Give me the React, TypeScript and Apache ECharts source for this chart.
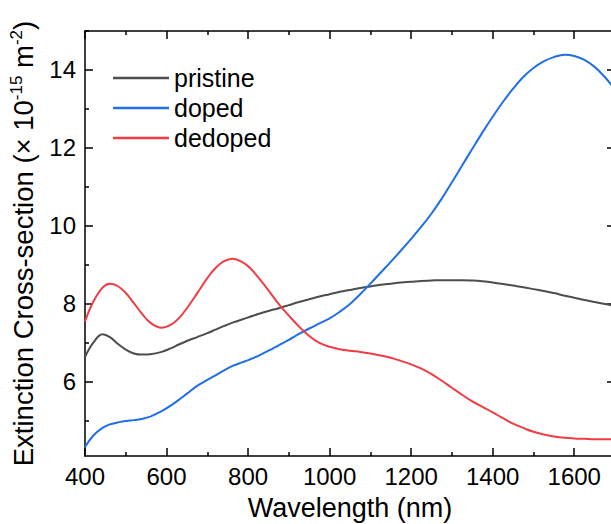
import React, { useEffect, useRef } from "react";
import * as echarts from "echarts";

const wavelengths = [400, 420, 443, 461, 480, 500, 520, 539, 560, 588, 610, 630, 650, 675, 700, 720, 740, 762, 785, 805, 825, 850, 875, 900, 925, 950, 975, 1000, 1025, 1050, 1075, 1100, 1125, 1150, 1175, 1200, 1225, 1250, 1275, 1300, 1325, 1350, 1375, 1400, 1425, 1450, 1475, 1500, 1525, 1550, 1577, 1600, 1625, 1650, 1675, 1700];

const pristine = [6.64, 7.0, 7.22, 7.15, 6.98, 6.83, 6.73, 6.7, 6.71, 6.77, 6.86, 6.96, 7.05, 7.15, 7.25, 7.34, 7.43, 7.52, 7.6, 7.67, 7.74, 7.82, 7.89, 7.97, 8.05, 8.12, 8.19, 8.25, 8.31, 8.36, 8.41, 8.45, 8.49, 8.52, 8.55, 8.57, 8.59, 8.6, 8.61, 8.61, 8.61, 8.6, 8.58, 8.55, 8.51, 8.47, 8.43, 8.38, 8.33, 8.28, 8.21, 8.16, 8.1, 8.05, 8.0, 7.95];

const doped = [4.33, 4.62, 4.82, 4.91, 4.96, 5.0, 5.02, 5.05, 5.11, 5.25, 5.39, 5.54, 5.7, 5.9, 6.05, 6.17, 6.29, 6.41, 6.5, 6.58, 6.67, 6.8, 6.94, 7.08, 7.23, 7.37, 7.5, 7.63, 7.8, 8.0, 8.25, 8.52, 8.8, 9.08, 9.37, 9.67, 9.98, 10.32, 10.7, 11.12, 11.55, 11.98, 12.4, 12.8, 13.18, 13.52, 13.82, 14.05, 14.22, 14.33, 14.39, 14.36, 14.26, 14.08, 13.82, 13.5];

const dedoped = [7.55, 8.05, 8.42, 8.52, 8.46, 8.28, 8.02, 7.76, 7.52, 7.39, 7.46, 7.63, 7.89, 8.27, 8.66, 8.92, 9.09, 9.16, 9.08, 8.92, 8.68, 8.35, 8.0, 7.7, 7.42, 7.18, 7.0, 6.9, 6.84, 6.8, 6.77, 6.73, 6.68, 6.62, 6.54, 6.45, 6.34, 6.2, 6.03, 5.85, 5.67, 5.5, 5.36, 5.22, 5.07, 4.93, 4.82, 4.72, 4.65, 4.6, 4.565, 4.55, 4.54, 4.53, 4.53, 4.53];

const seriesNames = ["pristine", "doped", "dedoped"];
const seriesColors = ["#4d4d4d", "#1f6fe6", "#f03c44"];
const yMajor = [6, 8, 10, 12, 14];
const yMinor = [5, 7, 9, 11, 13, 15];

const FONT = "'Liberation Sans', Arial, Helvetica, sans-serif";

export default function App() {
  const ref = useRef<HTMLDivElement>(null);
  useEffect(() => {
    if (!ref.current) return;
    const chart = echarts.init(ref.current, undefined, { renderer: "svg" });
    const all = [pristine, doped, dedoped];
    const axisLine = { show: true, lineStyle: { color: "#000", width: 1.5 } };
    const xCommon = {
      type: "value",
      min: 400,
      max: 1700,
      interval: 200,
      axisLine,
      axisTick: { show: true, inside: true, length: 8, lineStyle: { color: "#000", width: 1.5 } },
      minorTick: { show: true, splitNumber: 2, length: 4, lineStyle: { color: "#000", width: 1.5 } },
      splitLine: { show: false },
      minorSplitLine: { show: false },
    };
    const yCommon = { type: "value", min: 4.1, max: 15, splitLine: { show: false } };
    const majorTick = { show: true, inside: true, length: 8, customValues: yMajor, lineStyle: { color: "#000", width: 1.5 } };
    const minorTickY = { show: true, inside: true, length: 4, customValues: yMinor, lineStyle: { color: "#000", width: 1.5 } };
    chart.setOption({
      animation: false,
      backgroundColor: "#fff",
      grid: { left: 85, right: -4, top: 31, bottom: 68, outerBoundsMode: "none", containLabel: false },
      legend: {
        data: seriesNames,
        orient: "vertical",
        left: 113,
        top: 63,
        padding: 0,
        icon: "rect",
        itemWidth: 56,
        itemHeight: 2.5,
        itemGap: 0,
        textStyle: { fontSize: 25, fontFamily: FONT, color: "#000", lineHeight: 30 },
      },
      xAxis: [
        {
          ...xCommon,
          position: "bottom",
          axisLabel: {
            show: true,
            fontSize: 24,
            fontFamily: FONT,
            color: "#000",
            margin: 8,
            showMaxLabel: false,
            formatter: (v: number) => String(v),
          },
          name: "Wavelength (nm)",
          nameLocation: "middle",
          nameGap: 38,
          nameTextStyle: { fontSize: 27, fontFamily: FONT, color: "#000" },
        },
        { ...xCommon, position: "top", axisLabel: { show: false } },
      ],
      yAxis: [
        {
          ...yCommon,
          position: "left",
          axisLine,
          axisTick: majorTick,
          axisLabel: { show: true, customValues: yMajor, fontSize: 24, fontFamily: FONT, color: "#000", margin: 9 },
          name: "Extinction Cross-section (× 10{sup|-15} m{sup|-2})",
          nameLocation: "middle",
          nameGap: 37,
          nameTextStyle: {
            fontSize: 27.5,
            fontFamily: FONT,
            color: "#000",
            lineHeight: 30,
            rich: { sup: { fontSize: 17, fontFamily: FONT, color: "#000", verticalAlign: "top", lineHeight: 20 } },
          },
        },
        { ...yCommon, position: "left", axisLine: { show: false }, axisTick: minorTickY, axisLabel: { show: false } },
        { ...yCommon, position: "right", axisLine, axisTick: majorTick, axisLabel: { show: false } },
        { ...yCommon, position: "right", axisLine: { show: false }, axisTick: minorTickY, axisLabel: { show: false } },
      ],
      series: seriesNames.map((name, i) => ({
        name,
        type: "line",
        smooth: 0.4,
        showSymbol: false,
        symbol: "none",
        xAxisIndex: 0,
        yAxisIndex: 0,
        color: seriesColors[i],
        lineStyle: { color: seriesColors[i], width: 2 },
        data: wavelengths.map((w, j) => [w, all[i][j]]),
      })),
    });
    return () => chart.dispose();
  }, []);
  return <div ref={ref} style={{ width: 611, height: 524, position: "absolute", left: 0, top: 0 }} />;
}
